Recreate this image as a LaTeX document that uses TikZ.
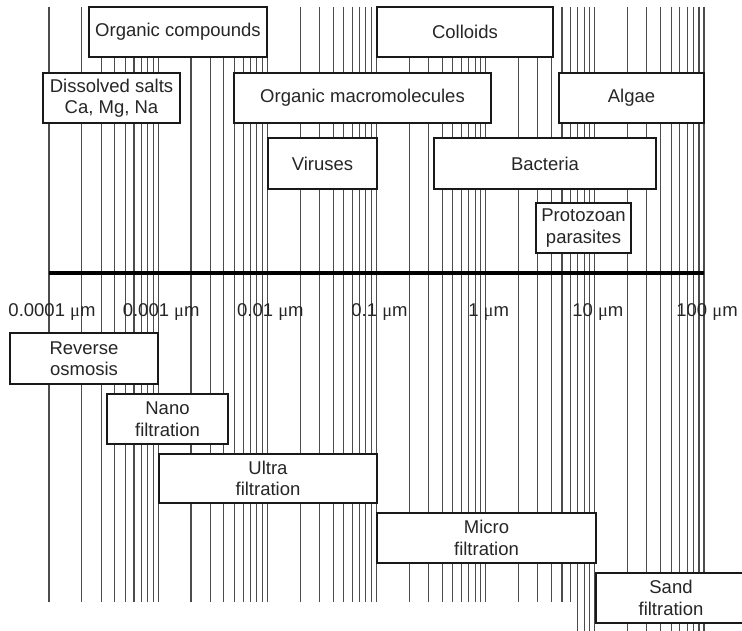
\documentclass[tikz,border=0pt]{standalone}
\usepackage{fontspec}
\setmainfont{Liberation Sans}
\newfontfamily\mufont{Liberation Serif}
\newcommand{\um}{{\mufont μ}m}

\begin{document}
\begin{tikzpicture}[x=1pt, y=-1pt,
    sizebox/.style={draw=black!90, line width=1.5pt, fill=white, text=black!85,
        align=center, inner sep=0pt, font=\fontsize{18.5}{21.5}\selectfont},
    gridline/.style={black!70, line width=1.1pt},
    scalelabel/.style={text=black!85, inner sep=0pt, font=\fontsize{18.5}{21.5}\selectfont}]
    \useasboundingbox (0,0) rectangle (742,631);
    \clip (0,0) rectangle (742,631);
    % 対数目盛りの縦線（7 µm 以上は下端まで）
    \foreach \dec in {0,...,5} {
        \foreach \mant in {1,...,9} {
            \pgfmathsetmacro{\gx}{49 + 109.17*(\dec + log10(\mant))}
            \pgfmathsetmacro{\gy}{ifthenelse(\dec*10 + \mant >= 47, 631, 602)}
            \draw[gridline] (\gx, 7) -- (\gx, \gy);
        }
    }
    \draw[gridline] (704, 7) -- (704, 631);
    % 粒径の軸
    \coordinate (axisL) at (49, 273);
    \coordinate (axisR) at (704, 273);
    \draw[black, line width=3.5pt] (axisL) -- (axisR);
    \foreach \lab [count=\i from 0] in {0.0001,0.001,0.01,0.1,1,10,100} {
        \node[scalelabel] (tick\i) at ({52 + 109.17*\i}, 312) {\lab\ \um};
    }
    % 物質の大きさ
    \node[sizebox, minimum width=178pt, minimum height=50pt] (orgcomp) at (178, 32) {Organic compounds};
    \node[sizebox, minimum width=176pt, minimum height=50pt] (colloids) at (465, 32) {Colloids};
    \node[sizebox, minimum width=137pt, minimum height=50pt] (salts) at (111.5, 98) {Dissolved salts\\Ca, Mg, Na};
    \node[sizebox, minimum width=257pt, minimum height=50pt] (macro) at (362.5, 98) {Organic macromolecules};
    \node[sizebox, minimum width=145pt, minimum height=50pt] (algae) at (631.5, 98) {Algae};
    \node[sizebox, minimum width=109pt, minimum height=51pt] (viruses) at (322.5, 163.5) {Viruses};
    \node[sizebox, minimum width=222pt, minimum height=51pt] (bacteria) at (545, 163.5) {Bacteria};
    \node[sizebox, minimum width=95pt, minimum height=50pt] (protozoa) at (583.5, 228) {Protozoan\\parasites};
    % ろ過の範囲
    \node[sizebox, minimum width=148pt, minimum height=51pt] (reverse) at (84, 358.5) {Reverse\\osmosis};
    \node[sizebox, minimum width=121pt, minimum height=50pt] (nano) at (167.5, 419) {Nano\\filtration};
    \node[sizebox, minimum width=218pt, minimum height=49pt] (ultra) at (268, 478.5) {Ultra\\filtration};
    \node[sizebox, minimum width=219pt, minimum height=50pt] (micro) at (486.5, 538) {Micro\\filtration};
    \node[sizebox, minimum width=150pt, minimum height=50pt] (sand) at (671, 598) {Sand\\filtration};

\end{tikzpicture}
\end{document}
